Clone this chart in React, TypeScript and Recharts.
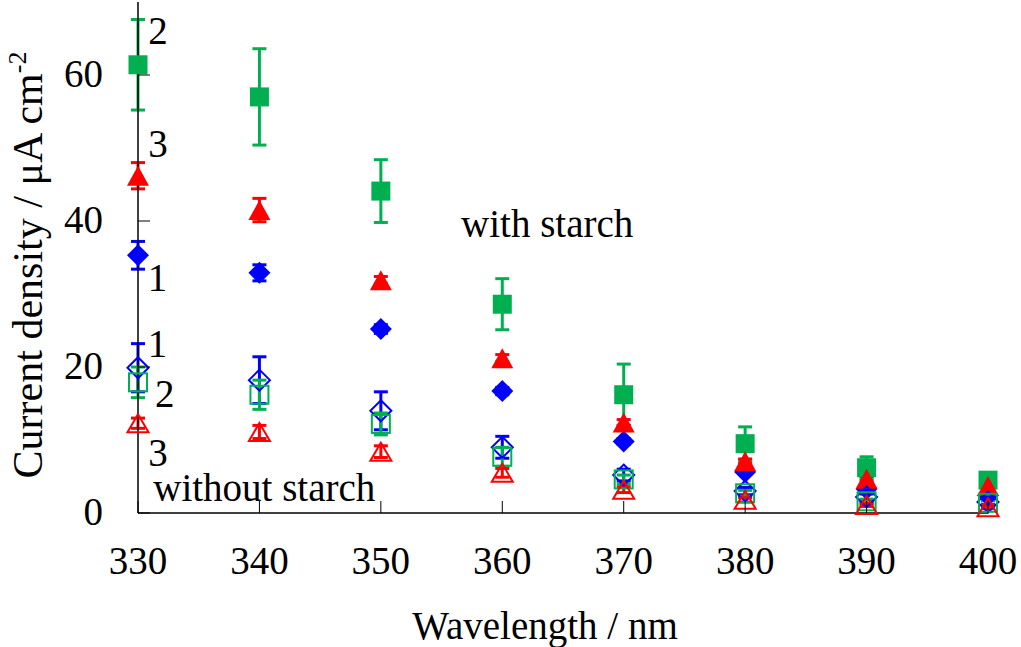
import React from 'react';
import { ScatterChart, Scatter, XAxis, YAxis, ErrorBar, ReferenceDot, Label } from 'recharts';

const wavelengths = [330, 340, 350, 360, 370, 380, 390, 400];
const xTicks = [330, 340, 350, 360, 370, 380, 390, 400];
const yTicks = [0, 20, 40, 60];

// with starch (filled markers)
const withStarch1 = [35.3, 32.9, 25.2, 16.7, 9.8, 5.6, 3.3, 2.4];
const withStarch1Err = [1.9, 1.1, 0.6, 0.5, 0.4, 0.3, 0.3, 0.2];
const withStarch2 = [61.4, 57.0, 44.1, 28.6, 16.2, 9.5, 6.2, 4.5];
const withStarch2Err = [6.2, 6.6, 4.3, 3.5, 4.2, 2.3, 1.5, 0.3];
const withStarch3 = [46.2, 41.5, 31.9, 21.2, 12.4, 7.1, 4.7, 3.7];
const withStarch3Err = [1.8, 1.6, 0.5, 0.5, 0.4, 0.3, 0.3, 0.2];

// without starch (open markers)
const noStarch1 = [19.9, 18.2, 14.0, 9.0, 5.2, 3.0, 2.2, 1.5];
const noStarch1Err = [3.3, 3.2, 2.6, 1.5, 0.8, 0.5, 0.4, 0.3];
const noStarch2 = [17.9, 16.2, 12.2, 7.7, 4.6, 2.7, 1.6, 1.4];
const noStarch2Err = [2.1, 2.0, 1.5, 1.3, 0.6, 0.4, 0.3, 0.3];
const noStarch3 = [12.3, 11.1, 8.4, 5.5, 3.2, 1.8, 1.1, 0.8];
const noStarch3Err = [0.7, 0.9, 0.8, 0.6, 0.4, 0.3, 0.2, 0.2];

const notes = [
  { x: 331.65, y: 66.2, text: '2' },
  { x: 331.65, y: 50.7, text: '3' },
  { x: 331.6, y: 32.3, text: '1' },
  { x: 331.6, y: 23.3, text: '1' },
  { x: 332.2, y: 16.4, text: '2' },
  { x: 331.65, y: 8.4, text: '3' },
  { x: 363.7, y: 39.7, text: 'with starch' },
  { x: 340.4, y: 3.5, text: 'without starch' },
];

const GREEN = '#00B050';
const RED = '#FF0000';
const BLUE = '#0000FF';
const FONT = 'Liberation Serif, Times New Roman, serif';

const build = (vals: number[], errs: number[]) =>
  wavelengths.map((w, i) => ({ x: w, y: vals[i], err: errs[i] }));

const marker = (kind: string, color: string, filled: boolean) => (props: any) => {
  const { cx, cy } = props;
  if (cx == null || cy == null) return <g />;
  const fill = filled ? color : 'none';
  const sw = filled ? 0 : 2;
  if (kind === 'square') {
    const h = filled ? 9.5 : 9;
    return <rect x={cx - h} y={cy - h} width={h * 2} height={h * 2} fill={fill} stroke={color} strokeWidth={sw} />;
  }
  if (kind === 'triangle') {
    const hw = filled ? 11 : 10.5;
    const hh = filled ? 10 : 9;
    return (
      <polygon
        points={`${cx},${cy - hh} ${cx + hw},${cy + hh} ${cx - hw},${cy + hh}`}
        fill={fill}
        stroke={color}
        strokeWidth={sw}
      />
    );
  }
  const r = filled ? 11 : 10.5;
  return (
    <polygon
      points={`${cx},${cy - r} ${cx + r},${cy} ${cx},${cy + r} ${cx - r},${cy}`}
      fill={fill}
      stroke={color}
      strokeWidth={sw}
    />
  );
};

const txtStyle = { fontFamily: FONT };

const XTick = (props: any) => {
  const { x, y, payload } = props;
  return (
    <g>
      <line x1={x} y1={y} x2={x} y2={y - 12} stroke="#000" strokeWidth={1} />
      <text x={x} y={y + 61} textAnchor="middle" fontSize={39} style={txtStyle} fill="#000">
        {payload.value}
      </text>
    </g>
  );
};

const YTick = (props: any) => {
  const { x, y, payload } = props;
  return (
    <g>
      <line x1={x} y1={y} x2={x + 12} y2={y} stroke="#000" strokeWidth={1} />
      <text x={x - 35} y={y + 12} textAnchor="end" fontSize={39} style={txtStyle} fill="#000">
        {payload.value}
      </text>
    </g>
  );
};

const series = [
  { name: 'with1', data: build(withStarch1, withStarch1Err), kind: 'diamond', color: BLUE, filled: true },
  { name: 'with2', data: build(withStarch2, withStarch2Err), kind: 'square', color: GREEN, filled: true },
  { name: 'with3', data: build(withStarch3, withStarch3Err), kind: 'triangle', color: RED, filled: true },
  { name: 'no1', data: build(noStarch1, noStarch1Err), kind: 'diamond', color: BLUE, filled: false },
  { name: 'no2', data: build(noStarch2, noStarch2Err), kind: 'square', color: GREEN, filled: false },
  { name: 'no3', data: build(noStarch3, noStarch3Err), kind: 'triangle', color: RED, filled: false },
];

export default function App() {
  return (
    <div style={{ position: 'absolute', left: 0, top: 0, background: '#fff', fontFamily: FONT }}>
      <ScatterChart width={1021} height={647} margin={{ top: 2, right: 33, bottom: 0, left: 0 }}>
        <XAxis
          xAxisId={0}
          dataKey="x"
          type="number"
          domain={[330, 400]}
          ticks={xTicks}
          interval={0}
          height={134}
          tickLine={false}
          tickSize={0}
          tickMargin={0}
          tick={<XTick />}
          axisLine={{ stroke: '#000', strokeWidth: 1.5 }}
        >
          <Label
            content={() => (
              <text x={545} y={639} textAnchor="middle" fontSize={39} style={txtStyle} fill="#000">
                Wavelength / nm
              </text>
            )}
          />
        </XAxis>
        <XAxis xAxisId="top" orientation="top" type="number" domain={[330, 400]} height={0} tick={false} tickLine={false} axisLine={{ stroke: '#777', strokeWidth: 1.5 }} />
        <YAxis
          yAxisId={0}
          dataKey="y"
          type="number"
          domain={[0, 70]}
          ticks={yTicks}
          interval={0}
          width={138}
          tickLine={false}
          tickSize={0}
          tickMargin={0}
          tick={<YTick />}
          axisLine={{ stroke: '#000', strokeWidth: 1.5 }}
        >
          <Label
            content={() => (
              <text
                x={42}
                y={265}
                transform="rotate(-90, 42, 265)"
                textAnchor="middle"
                fontSize={42}
                style={txtStyle}
                fill="#000"
              >
                Current density / μA cm
                <tspan fontSize={26} dy={-16}>-2</tspan>
              </text>
            )}
          />
        </YAxis>
        <YAxis yAxisId="right" orientation="right" type="number" domain={[0, 70]} width={0} tick={false} tickLine={false} axisLine={{ stroke: '#000', strokeWidth: 1.5 }} />
        {series.map((s) => (
          <Scatter
            key={s.name}
            name={s.name}
            data={s.data}
            dataKey="y"
            isAnimationActive={false}
            shape={marker(s.kind, s.color, s.filled)}
          >
            <ErrorBar dataKey="err" direction="y" width={7} strokeWidth={3} stroke={s.color} isAnimationActive={false} />
          </Scatter>
        ))}
        {notes.map((n, i) => (
          <ReferenceDot
            key={i}
            x={n.x}
            y={n.y}
            r={0}
            fill="none"
            stroke="none"
            label={{ value: n.text, position: 'center', fontSize: 39, style: txtStyle, fontFamily: FONT, fill: '#000' }}
          />
        ))}
      </ScatterChart>
    </div>
  );
}
